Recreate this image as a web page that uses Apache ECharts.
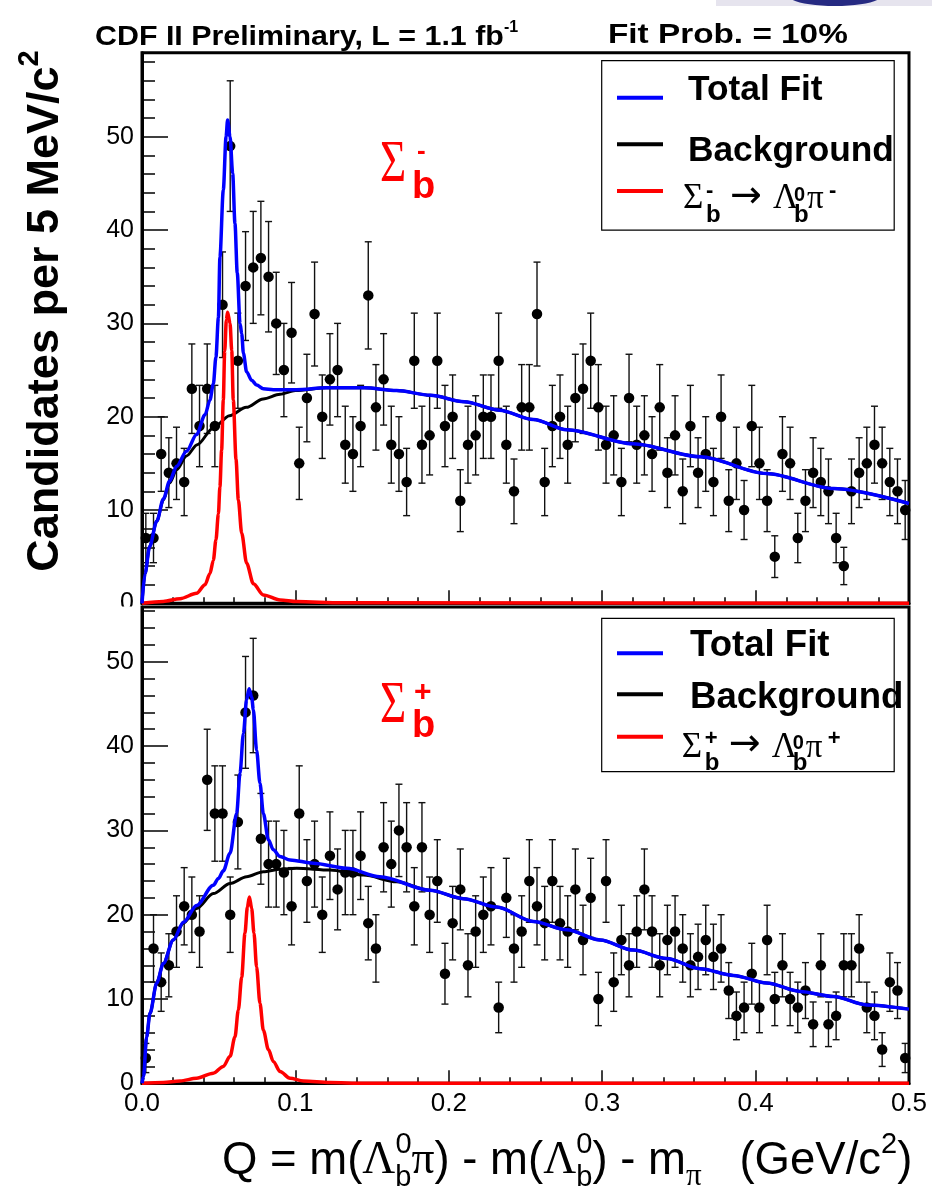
<!DOCTYPE html>
<html>
<head>
<meta charset="utf-8">
<script src="https://cdn.jsdelivr.net/npm/echarts@6.0.0/dist/echarts.min.js"></script>
<style>
  html, body { margin: 0; padding: 0; background: #fff; }
  #chart { width: 932px; height: 1189px; }
</style>
</head>
<body>
<div id="chart"></div>
<script>
// bins are 5 MeV wide, 100 bins from 0 to 0.5 GeV
var binWidth = 0.005;

// Sigma_b^- candidates per bin
var topCounts = [7, 7, 16, 14, 15, 13, 23, 19, 23, 19,
                 32, 49, 26, 34, 36, 37, 35, 30, 25, 29,
                 15, 22, 31, 20, 24, 25, 17, 16, 19, 33,
                 21, 24, 17, 16, 13, 26, 17, 18, 26, 19,
                 20, 11, 17, 18, 20, 20, 26, 17, 12, 21,
                 21, 31, 13, 19, 20, 17, 22, 23, 26, 21,
                 17, 18, 13, 22, 17, 18, 16, 21, 14, 18,
                 12, 19, 14, 16, 13, 20, 11, 15, 10, 19,
                 15, 11, 5, 16, 15, 7, 11, 14, 13, 12,
                 7, 4, 12, 14, 15, 17, 15, 13, 12, 10];

// Sigma_b^+ candidates per bin
var bottomCounts = [3, 16, 12, 14, 18, 21, 20, 18, 36, 32,
                    32, 20, 31, 44, 46, 29, 26, 26, 25, 21,
                    32, 24, 26, 20, 27, 23, 25, 25, 27, 19,
                    16, 28, 26, 30, 28, 21, 28, 20, 24, 13,
                    19, 23, 14, 18, 20, 21, 9, 22, 16, 18,
                    24, 21, 19, 24, 19, 18, 23, 17, 22, 10,
                    24, 12, 17, 14, 18, 23, 18, 14, 17, 18,
                    16, 14, 15, 17, 15, 16, 11, 8, 9, 13,
                    9, 17, 10, 14, 10, 9, 11, 7, 14, 7,
                    8, 14, 14, 16, 9, 8, 4, 12, 11, 3];

// fit curves (Q in GeV/c2, candidates)
var topFitQ = [0, 0.002, 0.005, 0.0096, 0.014, 0.018, 0.0226, 0.029, 0.0356, 0.0411, 0.0443, 0.0465,
               0.0482, 0.0498, 0.0508, 0.053, 0.0548, 0.0558, 0.0574, 0.0591, 0.0606, 0.0621, 0.0639,
               0.065, 0.0661, 0.0682, 0.0715, 0.0747, 0.0791, 0.0856, 0.1008, 0.12, 0.145, 0.166,
               0.188, 0.21, 0.233, 0.255, 0.277, 0.32, 0.364, 0.407, 0.451, 0.5];
var topFitY = [0, 3.2, 6.1, 8.8, 11.2, 13.1, 14.7, 16.3, 18.1, 20.2, 21.8, 23.5,
               26.4, 30.6, 37.1, 44.3, 50.0, 51.8, 50.0, 46.1, 40.7, 35.4, 30.0,
               28.9, 26.8, 24.8, 23.9, 23.4, 23.0, 22.9, 22.9, 23.1, 23.1, 22.8,
               22.3, 21.6, 20.7, 19.7, 18.6, 17.1, 15.7, 13.9, 12.3, 10.7];
var topBkgQ = [0, 0.002, 0.005, 0.0096, 0.014, 0.018, 0.0226, 0.029, 0.036, 0.0465, 0.057, 0.068,
               0.079, 0.09, 0.1, 0.12, 0.145, 0.166, 0.188, 0.21, 0.233, 0.255, 0.277, 0.32,
               0.364, 0.407, 0.451, 0.5];
var topBkgY = [0, 3.2, 6.1, 8.8, 11.1, 12.9, 14.3, 15.8, 17.0, 18.8, 20.1, 21.0,
               21.9, 22.4, 22.8, 23.1, 23.1, 22.8, 22.3, 21.6, 20.7, 19.7, 18.6, 17.1,
               15.7, 13.9, 12.3, 10.7];
var topSigQ = [0, 0.0139, 0.0248, 0.0356, 0.0411, 0.0443, 0.0465, 0.0482, 0.0498, 0.0508, 0.0519,
               0.053, 0.0539, 0.055, 0.0558, 0.0574, 0.0585, 0.0595, 0.0613, 0.0628, 0.065, 0.0682,
               0.0726, 0.0791, 0.09, 0.1008, 0.13, 0.5];
var topSigY = [0, 0.2, 0.5, 1.07, 2.0, 3.2, 4.6, 6.8, 9.6, 12.5, 16.4,
               21.8, 27.0, 30.4, 31.2, 30.0, 27.1, 21.8, 15.4, 11.1, 7.5, 4.3,
               2.1, 0.9, 0.36, 0.18, 0.05, 0];

var botFitQ = [0, 0.001, 0.003, 0.0052, 0.0096, 0.0139, 0.0204, 0.027, 0.0356, 0.0465, 0.0498,
               0.053, 0.0574, 0.0617, 0.0639, 0.0661, 0.0682, 0.0698, 0.0715, 0.0726, 0.0747,
               0.0769, 0.0791, 0.0824, 0.0856, 0.09, 0.0965, 0.1117, 0.1334, 0.1551, 0.1877,
               0.2095, 0.2312, 0.2551, 0.2769, 0.2986, 0.3203, 0.342, 0.3638, 0.3855, 0.4072,
               0.429, 0.4507, 0.4724, 0.5];
var botFitY = [0, 0.8, 5.5, 8.3, 11.9, 14.2, 17.0, 19.1, 21.1, 23.5, 24.3,
               25.2, 27.3, 32.0, 36.8, 41.5, 45.5, 46.8, 45.8, 44.3, 39.5,
               35.6, 32.0, 28.9, 27.7, 26.9, 26.5, 26.1, 25.5, 24.5, 22.9,
               21.9, 20.9, 19.2, 18.2, 17.0, 15.8, 14.8, 13.6, 12.8, 11.9,
               10.9, 10.3, 9.3, 8.8];
var botBkgQ = [0, 0.001, 0.003, 0.0052, 0.0096, 0.0139, 0.0204, 0.027, 0.0356, 0.0465, 0.0574,
               0.0682, 0.0791, 0.09, 0.1008, 0.1226, 0.1443, 0.166, 0.1877, 0.2095, 0.2312,
               0.2551, 0.2769, 0.2986, 0.3203, 0.342, 0.3638, 0.3855, 0.4072, 0.429, 0.4507,
               0.4724, 0.5];
var botBkgY = [0, 0.8, 5.5, 8.3, 11.9, 14.2, 17.0, 19.0, 20.75, 22.5, 23.7,
               24.5, 25.1, 25.4, 25.5, 25.3, 24.7, 23.9, 22.9, 21.9, 20.9,
               19.2, 18.2, 17.0, 15.8, 14.8, 13.6, 12.8, 11.9, 10.9, 10.3,
               9.3, 8.8];
var botSigQ = [0, 0.0139, 0.0248, 0.0356, 0.0465, 0.053, 0.0574, 0.0606, 0.0628, 0.065, 0.0671,
               0.0687, 0.07, 0.0715, 0.073, 0.0747, 0.0769, 0.0791, 0.0824, 0.0856, 0.09,
               0.0965, 0.1052, 0.1226, 0.1443, 0.5];
var botSigY = [0, 0.1, 0.28, 0.6, 1.2, 2.0, 3.2, 5.5, 8.7, 12.6, 17.8,
               20.9, 22.1, 20.75, 17.8, 13.8, 9.5, 6.3, 4.0, 2.6, 1.4,
               0.6, 0.28, 0.1, 0, 0];

var binQ = topCounts.map(function (n, i) { return (i + 0.5) * binWidth; });

var SANS = '"Liberation Sans", Arial, sans-serif';
var SERIF = '"Liberation Serif", "Times New Roman", serif';

function zip(xs, ys) {
    return xs.map(function (x, i) { return [x, ys[i]]; });
}

function renderErr(params, api) {
    var lo = api.coord([api.value(0), api.value(1)]);
    var hi = api.coord([api.value(0), api.value(2)]);
    var w = 3.5;
    var st = { stroke: '#111', lineWidth: 1.4 };
    return {
        type: 'group',
        children: [
            { type: 'line', shape: { x1: lo[0], y1: lo[1], x2: hi[0], y2: hi[1] }, style: st },
            { type: 'line', shape: { x1: lo[0] - w, y1: lo[1], x2: lo[0] + w, y2: lo[1] }, style: st },
            { type: 'line', shape: { x1: hi[0] - w, y1: hi[1], x2: hi[0] + w, y2: hi[1] }, style: st }
        ]
    };
}

function curve(p, qs, ys, color, width, z) {
    return {
        type: 'line', xAxisIndex: p, yAxisIndex: p,
        data: zip(qs, ys),
        showSymbol: false, symbol: 'none',
        smooth: 0.3, smoothMonotone: 'x',
        lineStyle: { color: color, width: width },
        z: z, silent: true
    };
}

function panelSeries(p, counts, fitQ, fitY, bkgQ, bkgY, sigQ, sigY) {
    var pts = counts.map(function (n, i) { return [binQ[i], n]; });
    var bars = counts.map(function (n, i) {
        var e = Math.sqrt(n);
        return [binQ[i], n - e, n + e];
    });
    return [
        { type: 'custom', xAxisIndex: p, yAxisIndex: p, data: bars,
          encode: { x: 0, y: [1, 2] }, renderItem: renderErr, z: 2, silent: true },
        { type: 'scatter', xAxisIndex: p, yAxisIndex: p, data: pts,
          symbol: 'circle', symbolSize: 10.5, itemStyle: { color: '#000', opacity: 1 }, z: 3, silent: true },
        curve(p, bkgQ, bkgY, '#000', 3, 4),
        curve(p, sigQ, sigY, '#ff0000', 3.5, 5),
        curve(p, fitQ, fitY, '#0000ff', 3.5, 6)
    ];
}

function xAxisFor(p, showLabels) {
    return {
        type: 'value', gridIndex: p, min: 0, max: 0.5, interval: 0.1,
        axisLine: { onZero: false, lineStyle: { color: '#000', width: 3 } },
        axisTick: { inside: true, length: 13, lineStyle: { color: '#000', width: 1.5 } },
        minorTick: { show: true, splitNumber: 5, length: 6, lineStyle: { color: '#000', width: 1.5 } },
        splitLine: { show: false },
        axisLabel: {
            show: showLabels, color: '#000', fontSize: 26, fontFamily: SANS, margin: 8,
            formatter: function (v) { return v.toFixed(1); }
        }
    };
}

function yAxisFor(p, max) {
    return {
        type: 'value', gridIndex: p, min: 0, max: max, interval: 10,
        axisLine: { onZero: false, lineStyle: { color: '#000', width: 3 } },
        axisTick: { inside: true, length: 26, lineStyle: { color: '#000', width: 1.5 } },
        minorTick: { show: true, splitNumber: 5, length: 13, lineStyle: { color: '#000', width: 1.5 } },
        splitLine: { show: false },
        axisLabel: { color: '#000', fontSize: 25, fontFamily: SANS, margin: 8, showMaxLabel: false }
    };
}

function txt(x, y, text, font, color, extra) {
    var el = {
        type: 'text', x: x, y: y, z: 100,
        style: { text: text, font: font, fill: color || '#000', textAlign: 'left', textVerticalAlign: 'middle' }
    };
    if (extra) { for (var k in extra) el[k] = extra[k]; }
    return el;
}

// Sigma_b -> Lambda_b pi in the legend; x0 = left of Sigma, yb = its baseline
function decayText(x0, yb, sign) {
    return [
        txt(x0, yb - 11.6, 'Σ', '35px ' + SERIF),
        txt(x0 + 23, yb - 20, sign, 'bold 22px ' + SANS),
        txt(x0 + 23, yb + 4.6, 'b', 'bold 24px ' + SANS),
        txt(x0 + 47, yb - 14, '→', '38px "DejaVu Sans", sans-serif'),
        txt(x0 + 90, yb - 11.6, 'Λ', '35px ' + SERIF),
        txt(x0 + 111, yb - 15.5, '0', 'bold 20px ' + SANS),
        txt(x0 + 111, yb + 4.6, 'b', 'bold 24px ' + SANS),
        txt(x0 + 124, yb - 11, 'π', '33px ' + SERIF),
        txt(x0 + 146, yb - 20, sign, 'bold 22px ' + SANS)
    ];
}

function legendBox(x, y, w, h, rows, fontSize, decayX, decayY, sign) {
    var els = [
        { type: 'rect', z: 99, shape: { x: x, y: y, width: w, height: h },
          style: { fill: '#fff', stroke: '#000', lineWidth: 1.2 } },
        { type: 'line', z: 100, shape: { x1: 617, y1: rows[0], x2: 663, y2: rows[0] }, style: { stroke: '#0000ff', lineWidth: 4 } },
        { type: 'line', z: 100, shape: { x1: 617, y1: rows[1], x2: 663, y2: rows[1] }, style: { stroke: '#000', lineWidth: 4 } },
        { type: 'line', z: 100, shape: { x1: 617, y1: rows[2], x2: 663, y2: rows[2] }, style: { stroke: '#ff0000', lineWidth: 4 } },
        txt(rows[5], rows[3], 'Total Fit', 'bold ' + fontSize + 'px ' + SANS),
        txt(rows[5], rows[4], 'Background', 'bold ' + fontSize + 'px ' + SANS)
    ];
    return els.concat(decayText(decayX, decayY, sign));
}

function bigSigma(ySig, yB, sign, ySign, xSign, signFont) {
    return [
        txt(380, ySig, 'Σ', '60px ' + SERIF, '#ff0000', { scaleX: 0.75 }),
        txt(412, yB, 'b', 'bold 38px ' + SANS, '#ff0000'),
        txt(xSign, ySign, sign, signFont, '#ff0000')
    ];
}

var graphics = [
    // corner of the slide logo
    { type: 'rect', z: 100, shape: { x: 716, y: 0, width: 216, height: 6 }, style: { fill: '#e6e4ee' } },
    { type: 'ellipse', z: 101, shape: { cx: 835, cy: -4, rx: 46, ry: 10 }, style: { fill: '#262a82' } },
    // hide lower half of the top panel's "0"
    { type: 'rect', z: 100, shape: { x: 80, y: 606.5, width: 58, height: 20 }, style: { fill: '#fff' } },
    txt(95, 37.3, 'CDF II Preliminary, L = 1.1 fb', 'bold 28px ' + SANS, '#000', { scaleX: 1.085 }),
    txt(504, 27.5, '-1', 'bold 16px ' + SANS),
    txt(608, 35.3, 'Fit Prob. = 10%', 'bold 28px ' + SANS, '#000', { scaleX: 1.19 }),
    {
        type: 'text', x: 46, y: 311, rotation: Math.PI / 2, z: 100,
        style: {
            text: 'Candidates per 5 MeV/c{s|2}',
            font: 'bold 45px ' + SANS, fill: '#000', lineHeight: 62,
            textAlign: 'center', textVerticalAlign: 'middle',
            rich: { s: { font: 'bold 29px ' + SANS, lineHeight: 29, verticalAlign: 'top' } }
        }
    },
    {
        type: 'text', x: 222, y: 1161, z: 100,
        style: {
            text: 'Q = m({g|Λ}{sb|b}{sp|0}{g|π}) - m({g|Λ}{sb|b}{sp|0}) - m{sg|π}   (GeV/c{s2|2})',
            font: '45.5px ' + SANS, fill: '#000', lineHeight: 62,
            textAlign: 'left', textVerticalAlign: 'middle',
            rich: {
                g: { font: '45.5px ' + SERIF, lineHeight: 62 },
                sb: { font: '29px ' + SANS, lineHeight: 29, verticalAlign: 'bottom' },
                sp: { font: '29px ' + SANS, lineHeight: 29, verticalAlign: 'top', padding: [0, 0, 0, -16] },
                sg: { font: '31px ' + SERIF, lineHeight: 29, verticalAlign: 'bottom' },
                s2: { font: '29px ' + SANS, lineHeight: 29, verticalAlign: 'top' }
            }
        }
    }
]
    .concat(legendBox(601.7, 60.7, 292.5, 169.5, [97.7, 144.3, 191, 90, 150.8, 688], 35.3, 683, 210.7, '-'))
    .concat(legendBox(601.7, 618.3, 292.5, 153.4, [653.3, 694.3, 736.7, 645.5, 698, 690], 36.6, 681.7, 759, '+'))
    .concat(bigSigma(165.5, 187.8, '-', 152, 417, 'bold 26px ' + SANS))
    .concat(bigSigma(706.5, 726.8, '+', 692.5, 414, 'bold 30px ' + SANS));

var option = {
    backgroundColor: '#fff',
    animation: false,
    grid: [
        { left: 142, top: 52.8, width: 767, height: 550.5, show: true,
          borderColor: '#000', borderWidth: 3, backgroundColor: '#fff' },
        { left: 142, top: 607, width: 767, height: 476.3, show: true,
          borderColor: '#000', borderWidth: 3, backgroundColor: '#fff' }
    ],
    xAxis: [xAxisFor(0, false), xAxisFor(1, true)],
    yAxis: [yAxisFor(0, 59), yAxisFor(1, 56.5)],
    series: panelSeries(0, topCounts, topFitQ, topFitY, topBkgQ, topBkgY, topSigQ, topSigY)
        .concat(panelSeries(1, bottomCounts, botFitQ, botFitY, botBkgQ, botBkgY, botSigQ, botSigY)),
    graphic: graphics
};

var myChart = echarts.init(document.getElementById('chart'));
myChart.setOption(option);
</script>
</body>
</html>
